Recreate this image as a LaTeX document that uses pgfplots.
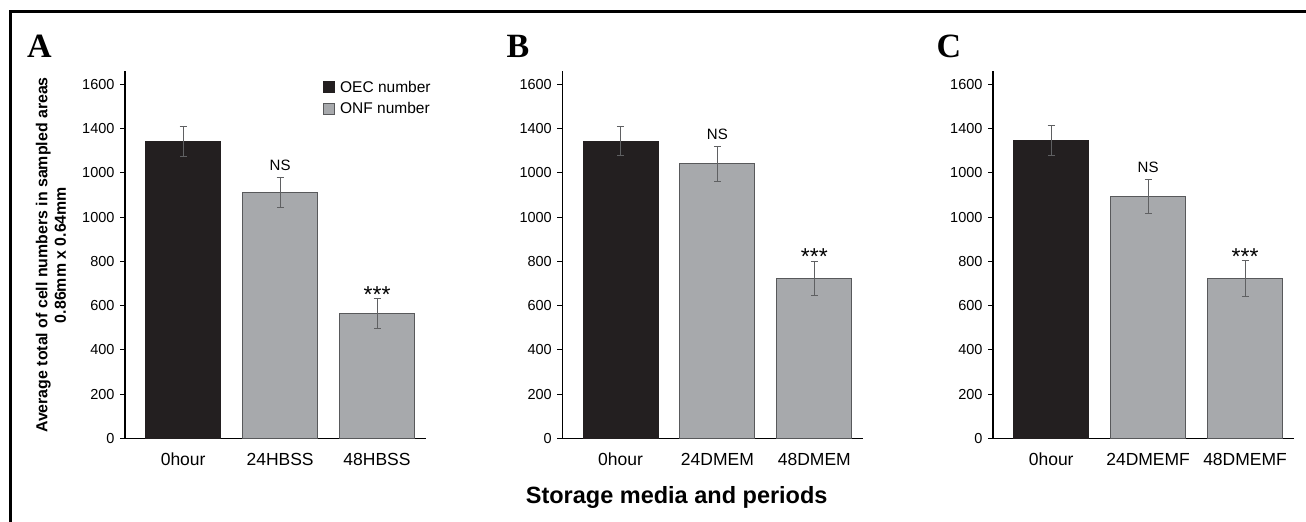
\documentclass[border=0pt]{standalone}
\usepackage{fontspec}
\setmainfont{Liberation Sans}
\newfontfamily\lserif{Liberation Serif}
\usepackage{pgfplots}
\pgfplotsset{compat=1.18}
\definecolor{barblack}{HTML}{231F20}
\definecolor{bargray}{HTML}{A7A9AC}
\definecolor{edgegray}{HTML}{58595B}
\definecolor{errgray}{HTML}{5F6062}
\tikzset{
  ann/.style={font=\fontsize{15bp}{18bp}\selectfont, anchor=south, inner sep=0pt},
  star/.style={font=\fontsize{23bp}{25bp}\selectfont, anchor=base, inner sep=0pt},
}
\pgfplotsset{
  panel/.style={
    scale only axis, width=300.5bp, height=367.3bp,
    anchor=south west,
    xmin=-0.6, xmax=2.5, ymin=0, ymax=1660,
    axis lines=left, axis line style={-, line width=1.2bp, black},
    ytick={0,200,...,1600},
    yticklabels={0,200,400,600,800,1000,1000,1400,1600},
    xtick={0,1,2},
    major x tick style={draw=none},
    tick align=outside, major tick length=5bp,
    major y tick style={line width=1bp, black},
    yticklabel style={font=\fontsize{14.5bp}{17bp}\selectfont, xshift=-2bp},
    xticklabel style={font=\fontsize{17.5bp}{20bp}\selectfont, yshift=-6bp},
    /pgf/number format/assume math mode=true,
    ybar, bar width=75bp,
    clip=false,
  },
  oec/.style={fill=barblack, draw=barblack, line width=0.8bp, bar shift=0pt,
    /pgfplots/error bars/y dir=both, /pgfplots/error bars/y explicit,
    /pgfplots/error bars/error bar style={color=errgray, line width=1bp},
    /pgfplots/error bars/error mark options={rotate=90, mark size=3.5bp, line width=1bp, errgray}},
  onf/.style={fill=bargray, draw=edgegray, line width=1bp, bar shift=0pt,
    /pgfplots/error bars/y dir=both, /pgfplots/error bars/y explicit,
    /pgfplots/error bars/error bar style={color=errgray, line width=1bp},
    /pgfplots/error bars/error mark options={rotate=90, mark size=3.5bp, line width=1bp, errgray}},
}
\begin{document}
\begin{tikzpicture}[x=1bp,y=1bp]
\useasboundingbox (0,0) rectangle (1306,-522);
\fill[white] (0,0) rectangle (1306,-522);
\draw[line width=2.5bp] (10.5,-522) -- (10.5,-11.5) -- (1306,-11.5);

% Panel A
\begin{axis}[panel, at={(125bp,-438.3bp)},
  xticklabels={0hour,24HBSS,48HBSS},
  legend style={at={(axis description cs:0.658,0.978)}, anchor=north west,
    draw=none, fill=none, font=\fontsize{15.5bp}{18bp}\selectfont,
    row sep=6bp, column sep=4bp, inner sep=0pt, nodes={inner sep=1.5bp}},
  legend cell align=left,
  legend image code/.code={\draw[#1] (0bp,-5.3bp) rectangle (10.7bp,5.3bp);},
]
\addplot[oec] coordinates {(0,1342) +- (0,67)};
\addlegendentry{OEC number}
\addplot[onf] coordinates {(1,1112) +- (0,68) (2,563) +- (0,68)};
\addlegendentry{ONF number}
\node[ann] at (axis cs:1,1180) [yshift=6.6bp] {NS};
\node[star] at (axis cs:2,631) [yshift=-3.4bp] {***};
\end{axis}

% Panel B
\begin{axis}[panel, at={(562.3bp,-438.3bp)},
  xticklabels={0hour,24DMEM,48DMEM}]
\addplot[oec] coordinates {(0,1342) +- (0,65)};
\addplot[onf] coordinates {(1,1240) +- (0,80) (2,722) +- (0,78)};
\node[ann] at (axis cs:1,1320) [yshift=6.6bp] {NS};
\node[star] at (axis cs:2,800) [yshift=-3.4bp] {***};
\end{axis}

% Panel C
\begin{axis}[panel, at={(993bp,-438.3bp)},
  xticklabels={0hour,24DMEMF,48DMEMF}]
\addplot[oec] coordinates {(0,1345) +- (0,68)};
\addplot[onf] coordinates {(1,1093) +- (0,75) (2,722) +- (0,81)};
\node[ann] at (axis cs:1,1168) [yshift=6.6bp] {NS};
\node[star] at (axis cs:2,803) [yshift=-3.4bp] {***};
\end{axis}

% Panel letters
\node[anchor=base west, inner sep=0pt, font=\lserif\bfseries\fontsize{34bp}{36bp}\selectfont] at (27,-58) {A};
\node[anchor=base west, inner sep=0pt, font=\lserif\bfseries\fontsize{34bp}{36bp}\selectfont] at (506.5,-58) {B};
\node[anchor=base west, inner sep=0pt, font=\lserif\bfseries\fontsize{34bp}{36bp}\selectfont] at (936.5,-58) {C};

% Y label
\node[rotate=90, align=center, inner sep=0pt, font=\bfseries\fontsize{15.9bp}{18.5bp}\selectfont] at (51,-255)
  {Average total of cell numbers in sampled areas\\0.86mm x 0.64mm};

% X title
\node[anchor=base, inner sep=0pt, font=\bfseries\fontsize{23.5bp}{26bp}\selectfont] at (676.7,-503) {Storage media and periods};
\end{tikzpicture}
\end{document}
